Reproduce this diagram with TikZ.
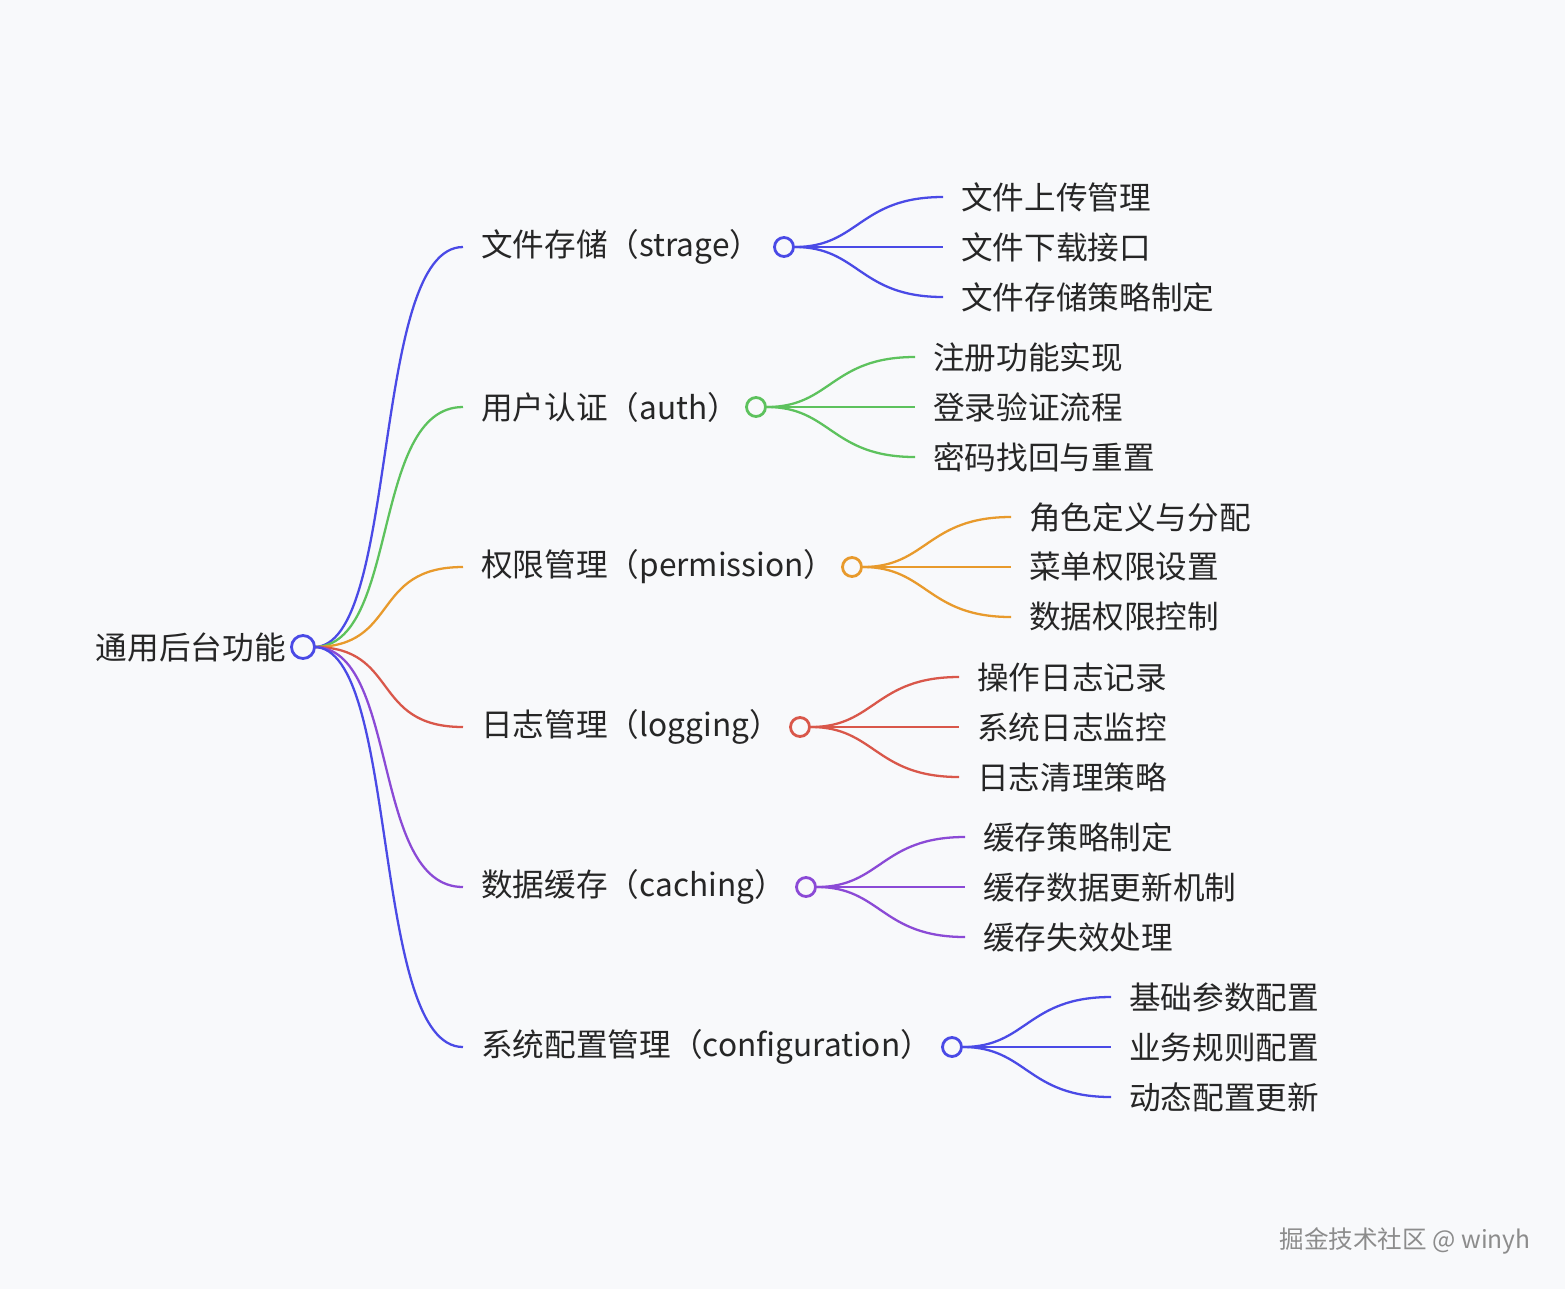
\documentclass[tikz,border=0pt]{standalone}
\usepackage{fontspec}
\setmainfont{Noto Sans CJK SC}
\usetikzlibrary{positioning}
\definecolor{bg}{HTML}{F8F9FB}
\definecolor{cblue}{HTML}{4A4AE6}
\definecolor{cgreen}{HTML}{5DC25D}
\definecolor{corange}{HTML}{E89A2C}
\definecolor{cred}{HTML}{D9574A}
\definecolor{cpurple}{HTML}{8B4AD6}
\begin{document}
\begin{tikzpicture}
 [ x=0.02cm
 , y=-0.02cm
 , txt/.style={font=\fontsize{18}{21}\selectfont, text=black!85, inner sep=0pt, anchor=west}
 , dot/.style={circle, draw, line width=1.6pt, fill=bg, minimum size=0.38cm, inner sep=0pt}
 , link/.style={line width=1.3pt}
 ]
  \fill[bg] (0,0) rectangle (1565,1289);
  \useasboundingbox (0,0) rectangle (1565,1289);
  \node[txt, anchor=east] (root) at (286,647) {通用后台功能};
  \foreach \i/\y/\cx/\lx/\col/\lab/\la/\lb/\lc in
    { 1/247/784/943/cblue/文件存储（strage）/文件上传管理/文件下载接口/文件存储策略制定
    , 2/407/756/915/cgreen/用户认证（auth）/注册功能实现/登录验证流程/密码找回与重置
    , 3/567/852/1011/corange/权限管理（permission）/角色定义与分配/菜单权限设置/数据权限控制
    , 4/727/800/959/cred/日志管理（logging）/操作日志记录/系统日志监控/日志清理策略
    , 5/887/806/965/cpurple/数据缓存（caching）/缓存策略制定/缓存数据更新机制/缓存失效处理
    , 6/1047/952/1111/cblue/系统配置管理（configuration）/基础参数配置/业务规则配置/动态配置更新}
  {
    \coordinate (e\i) at (463,\y);
    \node[txt] (b\i) at (481,\y) {\lab};
    \draw[link, \col] (314,647) .. controls (400,647) and (370,\y) .. (e\i);
    \node[dot, draw=\col] (c\i) at (\cx,\y) {};
    \foreach \j/\d/\t in {1/-50/\la, 2/0/\lb, 3/50/\lc}
    {
      \coordinate (f\i-\j) at (\lx,\y+\d);
      \node[txt] (l\i-\j) at (\lx+18,\y+\d) {\t};
      \draw[link, \col] (c\i.east) .. controls (\cx+75,\y) and (\cx+75,\y+\d) .. (f\i-\j);
    }
  }
  \node[dot, draw=cblue, minimum size=0.46cm] (rc) at (303,647) {};
  % watermark
  \node[txt, anchor=east, text=black!45, font=\fontsize{14}{16}\selectfont] (wm) at (1531,1241) {掘金技术社区 @ winyh};
\end{tikzpicture}
\end{document}
